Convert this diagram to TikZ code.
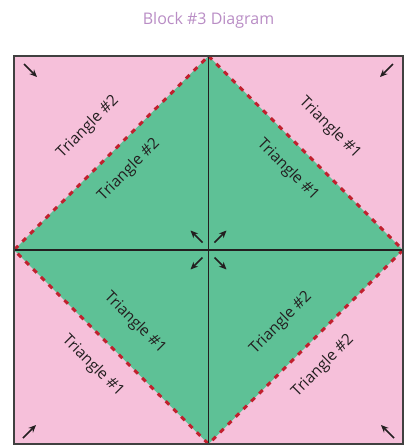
\documentclass[tikz,border=0pt]{standalone}
\usepackage{fontspec}
\setmainfont{Open Sans}
\usetikzlibrary{arrows.meta}
\definecolor{pinkc}{HTML}{F6C0DA}
\definecolor{greenc}{HTML}{5EC196}
\definecolor{redc}{HTML}{C1202E}
\definecolor{titlec}{HTML}{B98DC5}
\definecolor{inkc}{HTML}{231F20}
\tikzset{
  lbl/.style={font=\fontsize{15.5}{18}\selectfont, text=inkc, inner sep=0pt},
  arr/.style={-{Stealth[length=7.5pt,width=6.5pt]}, line width=1.5pt, draw=inkc},
  seam/.style={draw=redc, line width=3pt, dash pattern=on 5pt off 6pt},
}
\begin{document}
\begin{tikzpicture}[x=1pt,y=-1pt]
\useasboundingbox (0,0) rectangle (409,445);
\node[font=\fontsize{16}{19}\selectfont, text=titlec] (title) at (208.5,20) {Block \#3 Diagram};
\coordinate (tl) at (14,56);
\coordinate (tr) at (403,56);
\coordinate (br) at (403,444);
\coordinate (bl) at (14,444);
\coordinate (t) at (208.5,56);
\coordinate (r) at (403,250);
\coordinate (b) at (208.5,444);
\coordinate (l) at (14,250);
\coordinate (c) at (208.5,250);
\fill[pinkc] (tl) rectangle (br);
\fill[greenc] (t) -- (r) -- (b) -- (l) -- cycle;
\draw[seam] (t) -- (r) -- (b) -- (l) -- cycle;
\draw[inkc, line width=1.5pt] (t) -- (b);
\draw[inkc, line width=1.5pt] (l) -- (r);
\draw[draw=black!75, line width=1.6pt] (tl) rectangle (br);
% labels
\node[lbl, rotate=45] (p2) at (88,127) {Triangle \#2};
\node[lbl, rotate=45] (g2) at (129,170) {Triangle \#2};
\node[lbl, rotate=-45] (p1) at (330,128) {Triangle \#1};
\node[lbl, rotate=-45] (g1) at (288,170) {Triangle \#1};
\node[lbl, rotate=-45] (g1b) at (135,323) {Triangle \#1};
\node[lbl, rotate=-45] (p1b) at (93,366) {Triangle \#1};
\node[lbl, rotate=45] (g2b) at (281,323) {Triangle \#2};
\node[lbl, rotate=45] (p2b) at (323,366) {Triangle \#2};
% corner arrows
\coordinate (a1s) at (24,64); \coordinate (a1e) at (37,77);
\draw[arr] (a1s) -- (a1e);
\coordinate (a2s) at (393,64); \coordinate (a2e) at (380,77);
\draw[arr] (a2s) -- (a2e);
\coordinate (a3s) at (23,438); \coordinate (a3e) at (36,425);
\draw[arr] (a3s) -- (a3e);
\coordinate (a4s) at (394,438); \coordinate (a4e) at (381,425);
\draw[arr] (a4s) -- (a4e);
% center arrows
\coordinate (c1s) at (202.5,242.5); \coordinate (c1e) at (190.5,230.5);
\draw[arr] (c1s) -- (c1e);
\coordinate (c2s) at (214.5,242.5); \coordinate (c2e) at (226.5,230.5);
\draw[arr] (c2s) -- (c2e);
\coordinate (c3s) at (202.5,257.5); \coordinate (c3e) at (190.5,269.5);
\draw[arr] (c3s) -- (c3e);
\coordinate (c4s) at (214.5,257.5); \coordinate (c4e) at (226.5,269.5);
\draw[arr] (c4s) -- (c4e);
\end{tikzpicture}
\end{document}
